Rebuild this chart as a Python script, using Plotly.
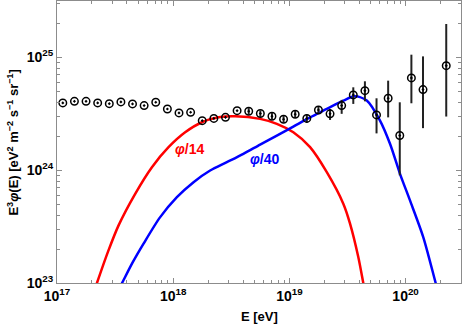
import plotly.graph_objects as go

# ---- data ----
# measured points: log10(E/eV) and E^3*phi in units of 1e24 eV^2 m^-2 s^-1 sr^-1
data_logE = [17.05, 17.15, 17.25, 17.35, 17.45, 17.55, 17.65, 17.75, 17.85, 17.95,
             18.05, 18.15, 18.25, 18.35, 18.45, 18.55, 18.65, 18.75, 18.85, 18.95,
             19.05, 19.15, 19.25, 19.35, 19.45, 19.55, 19.65, 19.75, 19.85, 19.95,
             20.05, 20.15, 20.35]
data_flux = [3.95, 4.08, 4.08, 3.95, 3.89, 4.03, 3.87, 3.74, 4.00, 3.49,
             3.22, 3.26, 2.75, 2.88, 2.94, 3.37, 3.33, 3.18, 3.01, 2.83,
             3.13, 2.88, 3.42, 3.16, 3.74, 4.65, 5.07, 3.09, 4.34, 2.03,
             6.58, 5.18, 8.45]
data_upper = [3.95, 4.08, 4.08, 3.95, 3.89, 4.03, 3.87, 3.74, 4.00, 3.49,
              3.22, 3.26, 2.75, 2.88, 2.94, 3.37, 3.55, 3.39, 3.21, 3.02,
              3.35, 3.12, 3.66, 3.49, 4.20, 5.43, 6.14, 4.34, 6.22, 4.00,
              10.57, 10.21, 19.77]
data_lower = [3.95, 4.08, 4.08, 3.95, 3.89, 4.03, 3.87, 3.74, 4.00, 3.49,
              3.22, 3.26, 2.75, 2.88, 2.94, 3.37, 3.11, 2.97, 2.81, 2.64,
              2.91, 2.64, 3.16, 2.79, 3.16, 3.87, 4.08, 2.12, 2.94, 0.90,
              3.92, 2.36, 2.99]

# model curves phi/14 (red) and phi/40 (blue): log10(E) and log10(E^3 phi)
red_logE = [17.24, 17.344, 17.44, 17.53, 17.673, 17.817, 17.96, 18.103, 18.247, 18.389,
            18.533, 18.748, 18.892, 19.034, 19.178, 19.322, 19.464, 19.522, 19.593, 19.636,
            19.68]
red_logF = [22.68, 23.0, 23.28, 23.511, 23.791, 24.027, 24.204, 24.336, 24.425, 24.469,
            24.478, 24.455, 24.411, 24.336, 24.204, 23.982, 23.703, 23.526, 23.23, 23.0,
            22.76]
blue_logE = [17.45, 17.56, 17.65, 17.745, 17.888, 18.032, 18.175, 18.318, 18.462, 18.604,
             18.748, 18.892, 19.034, 19.178, 19.322, 19.464, 19.565, 19.666, 19.78, 19.866,
             19.952, 20.038, 20.152, 20.259, 20.32]
blue_logF = [22.78, 23.0, 23.18, 23.349, 23.584, 23.761, 23.894, 23.997, 24.071, 24.145,
             24.227, 24.307, 24.387, 24.469, 24.543, 24.617, 24.655, 24.617, 24.44, 24.234,
             23.968, 23.732, 23.407, 23.0, 22.77]

x_range_log = [17, 20.477]
y_range_log = [23, 25.5]
decades_x = [17, 18, 19, 20]
decades_y = [23, 24, 25]
minor_decades_x = [17, 18, 19, 20]
minor_decades_y = [22, 23, 24, 25]

# ---- conversions ----
E_data = [10.0 ** v for v in data_logE]
F_data = [v * 1e24 for v in data_flux]
err_plus = [(u - v) * 1e24 for u, v in zip(data_upper, data_flux)]
err_minus = [(v - l) * 1e24 for l, v in zip(data_lower, data_flux)]
E_red = [10.0 ** v for v in red_logE]
F_red = [10.0 ** v for v in red_logF]
E_blue = [10.0 ** v for v in blue_logE]
F_blue = [10.0 ** v for v in blue_logF]
major_x = [10.0 ** d for d in decades_x]
major_y = [10.0 ** d for d in decades_y]
label_x = ["10<sup>%d</sup>" % d for d in decades_x]
label_y = ["10<sup>%d</sup>" % d for d in decades_y]
minor_x = [float(m) * 10.0 ** d for d in minor_decades_x for m in range(2, 10)]
minor_y = [float(m) * 10.0 ** d for d in minor_decades_y for m in range(2, 10)]

FONT = "Liberation Sans, Arial, Helvetica, sans-serif"
TICKC = "#8c8c8c"

fig = go.Figure()
fig.add_trace(go.Scatter(x=E_red, y=F_red, mode="lines",
                         line=dict(color="#ff0000", width=2.5, shape="spline", smoothing=0.8),
                         showlegend=False))
fig.add_trace(go.Scatter(x=E_blue, y=F_blue, mode="lines",
                         line=dict(color="#0000ff", width=2.5, shape="spline", smoothing=0.8),
                         showlegend=False))
fig.add_trace(go.Scatter(x=E_data, y=F_data, mode="markers",
                         marker=dict(symbol="circle-open-dot", size=7.5, color="black",
                                     line=dict(width=1.5, color="black")),
                         error_y=dict(type="data", symmetric=False, array=err_plus,
                                      arrayminus=err_minus, color="#222222",
                                      thickness=2, width=0),
                         showlegend=False))

fig.add_annotation(x=18.146, y=24.192, xref="x", yref="y", showarrow=False,
                   text="<b><i>φ</i>/14</b>", font=dict(color="#ff0000", size=14, family=FONT))
fig.add_annotation(x=18.787, y=24.095, xref="x", yref="y", showarrow=False,
                   text="<b><i>φ</i>/40</b>", font=dict(color="#0000ff", size=14, family=FONT))

# axis titles
fig.add_annotation(x=0.5, y=-0.1195, xref="paper", yref="paper", showarrow=False,
                   xanchor="center", yanchor="middle",
                   text="<b>E [eV]</b>", font=dict(color="black", size=13, family=FONT))
fig.add_annotation(x=-0.110, y=0.5, xref="paper", yref="paper", showarrow=False,
                   xanchor="center", yanchor="middle", textangle=-90,
                   text="<b>E<sup>3</sup><i>φ</i>(E) [eV<sup>2</sup> m<sup>−2</sup> s<sup>−1</sup> sr<sup>−1</sup>]</b>",
                   font=dict(color="black", size=13, family=FONT))

axis_common = dict(
    type="log", showgrid=False, zeroline=False, automargin=False,
    showline=True, linecolor=TICKC, linewidth=1, mirror="ticks",
    ticks="inside", ticklen=5, tickcolor=TICKC, tickwidth=1,
    tickmode="array",
    tickfont=dict(family=FONT, size=14, color="black", weight="bold"),
)

fig.update_xaxes(**axis_common, range=x_range_log, tickvals=major_x, ticktext=label_x,
                 minor=dict(ticks="inside", ticklen=3, tickcolor=TICKC, tickwidth=1,
                            showgrid=False, tickmode="array", tickvals=minor_x))
fig.update_yaxes(**axis_common, range=y_range_log, tickvals=major_y, ticktext=label_y,
                 minor=dict(ticks="inside", ticklen=3, tickcolor=TICKC, tickwidth=1,
                            showgrid=False, tickmode="array", tickvals=minor_y))

fig.update_layout(width=463, height=324, margin=dict(l=57, r=2, t=1, b=41),
                  plot_bgcolor="white", paper_bgcolor="white")

fig.write_html("out.html", config={"displayModeBar": False},
               post_script="document.body.style.margin='0';document.body.style.overflow='hidden';")
